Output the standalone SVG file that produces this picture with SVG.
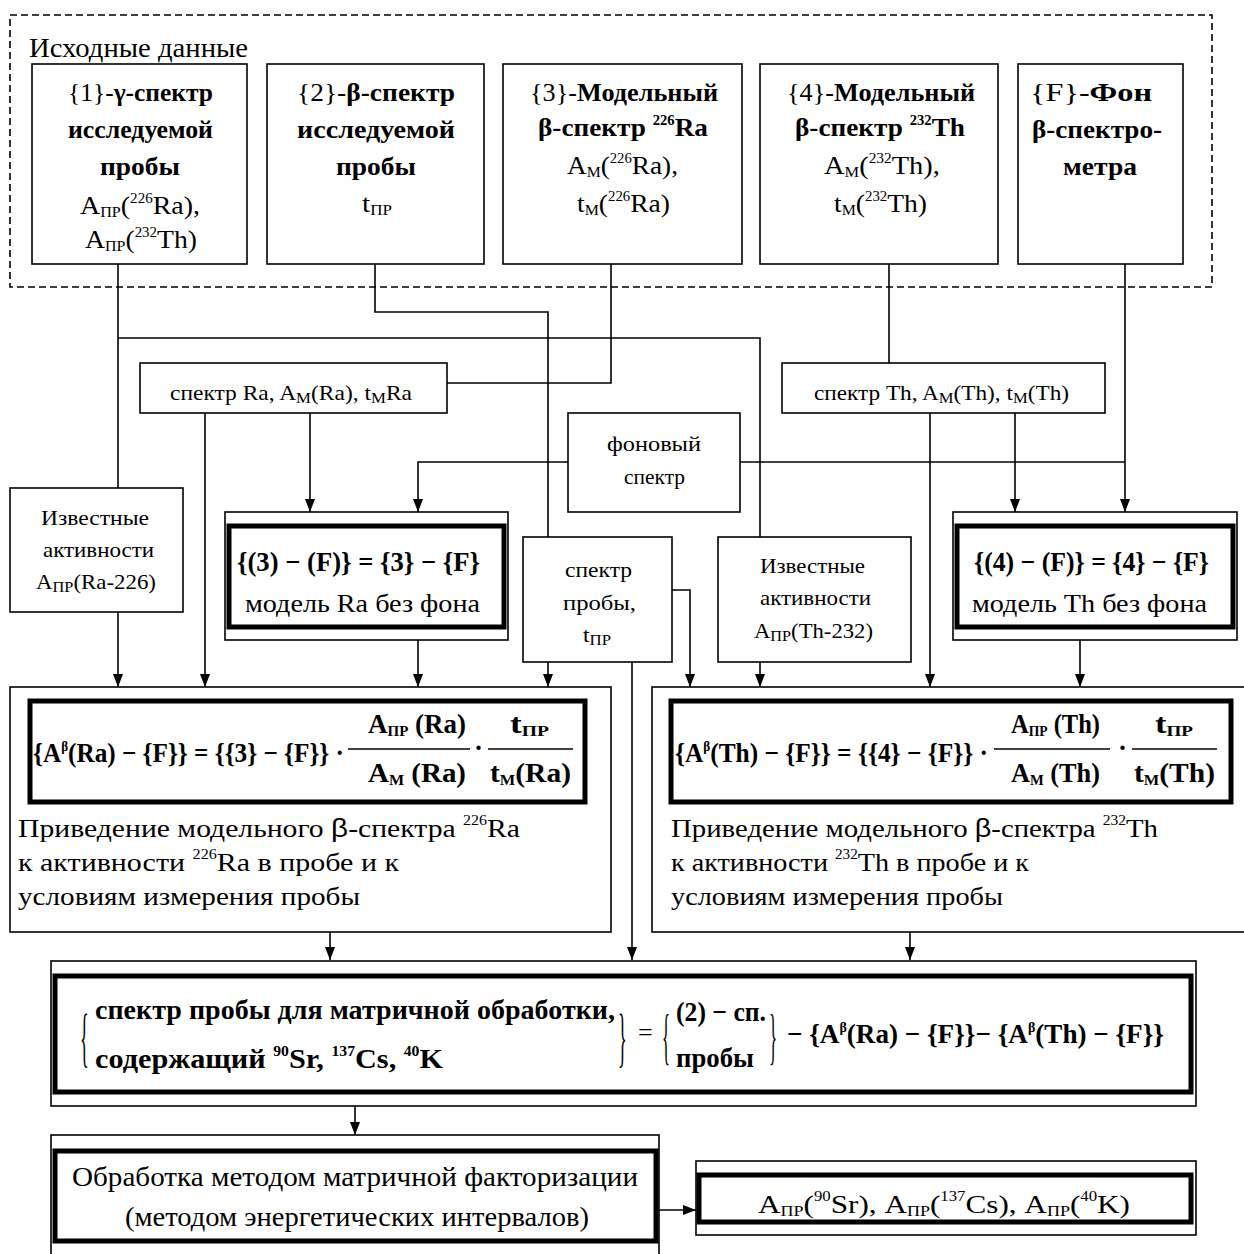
<svg xmlns="http://www.w3.org/2000/svg" width="1244" height="1254" viewBox="0 0 1244 1254">
<defs>
<style>
text{font-family:"Liberation Serif","Times New Roman",serif;fill:#000}
.f28{font-size:28px}
.f26{font-size:26px}
.f27{font-size:27px}
.f21{font-size:21px}
.b{font-weight:bold}
.sub{font-size:15px}
.sup{font-size:14px}
.box{fill:#fff;stroke:#000;stroke-width:1.6}
.thk{fill:none;stroke:#000;stroke-width:5}
.dash{fill:none;stroke:#000;stroke-width:1.6;stroke-dasharray:7 4}
.con path{fill:none;stroke:#000;stroke-width:1.6}
.arr{marker-end:url(#ah)}
.fl{stroke:#000;stroke-width:1.6}
</style>
<marker id="ah" viewBox="0 0 13 10" refX="13" refY="5" markerWidth="13" markerHeight="10" markerUnits="userSpaceOnUse" orient="auto"><path d="M0,0 L13,5 L0,10 z" fill="#000"/></marker>
</defs>
<rect x="0" y="0" width="1244" height="1254" fill="#fff"/>

<!-- Source data group -->
<g id="source-data">
<rect class="dash" x="10" y="15" width="1202" height="272"/>
<text class="f28" x="29" y="57" textLength="219" lengthAdjust="spacingAndGlyphs">Исходные данные</text>
</g>

<!-- connectors -->
<g id="connectors" class="con">
<path d="M118,264 V488"/>
<path d="M118,338 H760 V537"/>
<path class="arr" d="M118,612 V687"/>
<path d="M375,264 V312 H548 V537"/>
<path d="M611,264 V383 H447"/>
<path class="arr" d="M205,413 V687"/>
<path class="arr" d="M310,413 V512"/>
<path class="arr" d="M568,462 H418 V512"/>
<path d="M740,462 H1125"/>
<path class="arr" d="M1125,264 V512"/>
<path d="M889,264 V363"/>
<path class="arr" d="M930,413 V687"/>
<path class="arr" d="M1015,413 V512"/>
<path class="arr" d="M548,662 V687"/>
<path class="arr" d="M672,590 H690 V687"/>
<path class="arr" d="M632,662 V960"/>
<path class="arr" d="M760,662 V687"/>
<path class="arr" d="M418,640 V687"/>
<path class="arr" d="M1080,640 V687"/>
<path class="arr" d="M330,932 V960"/>
<path class="arr" d="M910,932 V960"/>
<path class="arr" d="M355,1106 V1135"/>
<path class="arr" d="M659,1210 H696"/>
</g>

<!-- top boxes -->
<g id="n1">
<rect class="box" x="32" y="64" width="215" height="200"/>
<text class="f26" x="68" y="101" textLength="145" lengthAdjust="spacingAndGlyphs">{1}-<tspan class="b">γ-спектр</tspan></text>
<text class="f26 b" x="68" y="138" textLength="145" lengthAdjust="spacingAndGlyphs">исследуемой</text>
<text class="f26 b" x="100" y="175" textLength="80" lengthAdjust="spacingAndGlyphs">пробы</text>
<text class="f26" x="80" y="214" textLength="120" lengthAdjust="spacingAndGlyphs">A<tspan class="sub" dy="3">ПР</tspan><tspan dy="-3">(</tspan><tspan class="sup" dy="-11">226</tspan><tspan dy="11">Ra),</tspan></text>
<text class="f26" x="85" y="248" textLength="112" lengthAdjust="spacingAndGlyphs">A<tspan class="sub" dy="3">ПР</tspan><tspan dy="-3">(</tspan><tspan class="sup" dy="-11">232</tspan><tspan dy="11">Th)</tspan></text>
</g>
<g id="n2">
<rect class="box" x="267" y="64" width="217" height="200"/>
<text class="f26" x="297" y="101" textLength="158" lengthAdjust="spacingAndGlyphs">{2}-<tspan class="b">β-спектр</tspan></text>
<text class="f26 b" x="297" y="138" textLength="158" lengthAdjust="spacingAndGlyphs">исследуемой</text>
<text class="f26 b" x="336" y="175" textLength="80" lengthAdjust="spacingAndGlyphs">пробы</text>
<text class="f26" x="362" y="212" textLength="30" lengthAdjust="spacingAndGlyphs">t<tspan class="sub" dy="3">ПР</tspan></text>
</g>
<g id="n3">
<rect class="box" x="503" y="64" width="239" height="200"/>
<text class="f26" x="530" y="101" textLength="188" lengthAdjust="spacingAndGlyphs">{3}-<tspan class="b">Модельный</tspan></text>
<text class="f26 b" x="538" y="136" textLength="170" lengthAdjust="spacingAndGlyphs">β-спектр <tspan class="sup" dy="-11">226</tspan><tspan dy="11">Ra</tspan></text>
<text class="f26" x="567" y="174" textLength="111" lengthAdjust="spacingAndGlyphs">A<tspan class="sub" dy="3">M</tspan><tspan dy="-3">(</tspan><tspan class="sup" dy="-11">226</tspan><tspan dy="11">Ra),</tspan></text>
<text class="f26" x="577" y="212" textLength="93" lengthAdjust="spacingAndGlyphs">t<tspan class="sub" dy="3">M</tspan><tspan dy="-3">(</tspan><tspan class="sup" dy="-11">226</tspan><tspan dy="11">Ra)</tspan></text>
</g>
<g id="n4">
<rect class="box" x="760" y="64" width="238" height="200"/>
<text class="f26" x="787" y="101" textLength="188" lengthAdjust="spacingAndGlyphs">{4}-<tspan class="b">Модельный</tspan></text>
<text class="f26 b" x="795" y="136" textLength="170" lengthAdjust="spacingAndGlyphs">β-спектр <tspan class="sup" dy="-11">232</tspan><tspan dy="11">Th</tspan></text>
<text class="f26" x="824" y="174" textLength="116" lengthAdjust="spacingAndGlyphs">A<tspan class="sub" dy="3">M</tspan><tspan dy="-3">(</tspan><tspan class="sup" dy="-11">232</tspan><tspan dy="11">Th),</tspan></text>
<text class="f26" x="834" y="212" textLength="93" lengthAdjust="spacingAndGlyphs">t<tspan class="sub" dy="3">M</tspan><tspan dy="-3">(</tspan><tspan class="sup" dy="-11">232</tspan><tspan dy="11">Th)</tspan></text>
</g>
<g id="nF">
<rect class="box" x="1018" y="64" width="165" height="200"/>
<text class="f26" x="1030" y="101" textLength="122" lengthAdjust="spacingAndGlyphs">{F}-<tspan class="b">Фон</tspan></text>
<text class="f26 b" x="1032" y="138" textLength="130" lengthAdjust="spacingAndGlyphs">β-спектро-</text>
<text class="f26 b" x="1063" y="175" textLength="74" lengthAdjust="spacingAndGlyphs">метра</text>
</g>

<!-- middle boxes -->
<g id="spec-ra">
<rect class="box" x="140" y="363" width="307" height="50"/>
<text class="f21" x="170" y="400" textLength="242" lengthAdjust="spacingAndGlyphs">спектр Ra, A<tspan class="sub" dy="3">M</tspan><tspan dy="-3">(Ra), t</tspan><tspan class="sub" dy="3">M</tspan><tspan dy="-3">Ra</tspan></text>
</g>
<g id="spec-th">
<rect class="box" x="782" y="363" width="323" height="50"/>
<text class="f21" x="814" y="400" textLength="255" lengthAdjust="spacingAndGlyphs">спектр Th, A<tspan class="sub" dy="3">M</tspan><tspan dy="-3">(Th), t</tspan><tspan class="sub" dy="3">M</tspan><tspan dy="-3">(Th)</tspan></text>
</g>
<g id="bg-spec">
<rect class="box" x="568" y="413" width="172" height="99"/>
<text class="f21" x="607" y="451" textLength="94" lengthAdjust="spacingAndGlyphs">фоновый</text>
<text class="f21" x="624" y="484" textLength="61" lengthAdjust="spacingAndGlyphs">спектр</text>
</g>
<g id="known-ra">
<rect class="box" x="10" y="488" width="173" height="124"/>
<text class="f21" x="41" y="525" textLength="108" lengthAdjust="spacingAndGlyphs">Известные</text>
<text class="f21" x="43" y="557" textLength="111" lengthAdjust="spacingAndGlyphs">активности</text>
<text class="f21" x="36" y="589" textLength="120" lengthAdjust="spacingAndGlyphs">A<tspan class="sub" dy="3">ПР</tspan><tspan dy="-3">(Ra-226)</tspan></text>
</g>
<g id="model-ra">
<rect class="box" x="225" y="512" width="283" height="128"/>
<rect class="thk" x="229" y="526" width="275" height="101"/>
<text class="f27 b" x="237" y="571" textLength="243" lengthAdjust="spacingAndGlyphs">{(3) − (F)} = {3} − {F}</text>
<text class="f26" x="245" y="612" textLength="235" lengthAdjust="spacingAndGlyphs">модель Ra без фона</text>
</g>
<g id="spec-sample">
<rect class="box" x="523" y="537" width="149" height="125"/>
<text class="f21" x="565" y="577" textLength="67" lengthAdjust="spacingAndGlyphs">спектр</text>
<text class="f21" x="563" y="610" textLength="73" lengthAdjust="spacingAndGlyphs">пробы,</text>
<text class="f21" x="583" y="642" textLength="28" lengthAdjust="spacingAndGlyphs">t<tspan class="sub" dy="3">ПР</tspan></text>
</g>
<g id="known-th">
<rect class="box" x="718" y="537" width="193" height="125"/>
<text class="f21" x="760" y="573" textLength="105" lengthAdjust="spacingAndGlyphs">Известные</text>
<text class="f21" x="760" y="605" textLength="111" lengthAdjust="spacingAndGlyphs">активности</text>
<text class="f21" x="754" y="638" textLength="119" lengthAdjust="spacingAndGlyphs">A<tspan class="sub" dy="3">ПР</tspan><tspan dy="-3">(Th-232)</tspan></text>
</g>
<g id="model-th">
<rect class="box" x="953" y="512" width="284" height="128"/>
<rect class="thk" x="957" y="526" width="276" height="101"/>
<text class="f27 b" x="974" y="571" textLength="235" lengthAdjust="spacingAndGlyphs">{(4) − (F)} = {4} − {F}</text>
<text class="f26" x="972" y="612" textLength="235" lengthAdjust="spacingAndGlyphs">модель Th без фона</text>
</g>

<!-- normalisation boxes -->
<g id="norm-ra">
<rect class="box" x="10" y="687" width="601" height="245"/>
<rect class="thk" x="30" y="701" width="555" height="101"/>
<text class="f27 b" x="33" y="762" textLength="311" lengthAdjust="spacingAndGlyphs">{A<tspan class="sup" dy="-11">β</tspan><tspan dy="11">(Ra) − {F}} = {{3} − {F}} ·</tspan></text>
<text class="f27 b" x="368" y="733" textLength="98" lengthAdjust="spacingAndGlyphs">A<tspan class="sub" dy="3">ПР</tspan><tspan dy="-3"> (Ra)</tspan></text>
<line class="fl" x1="348" y1="749" x2="470" y2="749"/>
<text class="f27 b" x="368" y="782" textLength="98" lengthAdjust="spacingAndGlyphs">A<tspan class="sub" dy="3">M</tspan><tspan dy="-3"> (Ra)</tspan></text>
<text class="f27 b" x="474" y="757">·</text>
<text class="f27 b" x="510" y="733" textLength="39" lengthAdjust="spacingAndGlyphs">t<tspan class="sub" dy="3">ПР</tspan></text>
<line class="fl" x1="488" y1="749" x2="573" y2="749"/>
<text class="f27 b" x="490" y="782" textLength="81" lengthAdjust="spacingAndGlyphs">t<tspan class="sub" dy="3">M</tspan><tspan dy="-3">(Ra)</tspan></text>
<text class="f26" x="18" y="837" textLength="502" lengthAdjust="spacingAndGlyphs">Приведение модельного <tspan font-family="Liberation Sans, sans-serif">β</tspan>-спектра <tspan class="sup" dy="-12">226</tspan><tspan dy="12">Ra</tspan></text>
<text class="f26" x="18" y="871" textLength="381" lengthAdjust="spacingAndGlyphs">к активности <tspan class="sup" dy="-12">226</tspan><tspan dy="12">Ra в пробе и к</tspan></text>
<text class="f26" x="18" y="905" textLength="342" lengthAdjust="spacingAndGlyphs">условиям измерения пробы</text>
</g>
<g id="norm-th">
<rect class="box" x="652" y="687" width="600" height="245"/>
<rect class="thk" x="671" y="701" width="560" height="101"/>
<text class="f27 b" x="675" y="762" textLength="313" lengthAdjust="spacingAndGlyphs">{A<tspan class="sup" dy="-11">β</tspan><tspan dy="11">(Th) − {F}} = {{4} − {F}} ·</tspan></text>
<text class="f27 b" x="1011" y="733" textLength="89" lengthAdjust="spacingAndGlyphs">A<tspan class="sub" dy="3">ПР</tspan><tspan dy="-3"> (Th)</tspan></text>
<line class="fl" x1="994" y1="749" x2="1110" y2="749"/>
<text class="f27 b" x="1011" y="782" textLength="89" lengthAdjust="spacingAndGlyphs">A<tspan class="sub" dy="3">M</tspan><tspan dy="-3"> (Th)</tspan></text>
<text class="f27 b" x="1118" y="757">·</text>
<text class="f27 b" x="1155" y="733" textLength="38" lengthAdjust="spacingAndGlyphs">t<tspan class="sub" dy="3">ПР</tspan></text>
<line class="fl" x1="1132" y1="749" x2="1217" y2="749"/>
<text class="f27 b" x="1134" y="782" textLength="81" lengthAdjust="spacingAndGlyphs">t<tspan class="sub" dy="3">M</tspan><tspan dy="-3">(Th)</tspan></text>
<text class="f26" x="671" y="837" textLength="487" lengthAdjust="spacingAndGlyphs">Приведение модельного <tspan font-family="Liberation Sans, sans-serif">β</tspan>-спектра <tspan class="sup" dy="-12">232</tspan><tspan dy="12">Th</tspan></text>
<text class="f26" x="671" y="871" textLength="358" lengthAdjust="spacingAndGlyphs">к активности <tspan class="sup" dy="-12">232</tspan><tspan dy="12">Th в пробе и к</tspan></text>
<text class="f26" x="671" y="905" textLength="332" lengthAdjust="spacingAndGlyphs">условиям измерения пробы</text>
</g>

<!-- matrix spectrum -->
<g id="matrix-spec">
<rect class="box" x="51" y="961" width="1145" height="145"/>
<rect class="thk" x="55" y="976" width="1136" height="116"/>
<text class="f26" transform="translate(80,1059) scale(0.7,2.55)">{</text>
<text class="f27 b" x="95" y="1019" textLength="520" lengthAdjust="spacingAndGlyphs">спектр пробы для матричной обработки,</text>
<text class="f27 b" x="95" y="1068" textLength="348" lengthAdjust="spacingAndGlyphs">содержащий <tspan class="sup" dy="-12">90</tspan><tspan dy="12">Sr, </tspan><tspan class="sup" dy="-12">137</tspan><tspan dy="12">Cs, </tspan><tspan class="sup" dy="-12">40</tspan><tspan dy="12">K</tspan></text>
<text class="f26" transform="translate(618,1059) scale(0.7,2.55)">}</text>
<text class="f26" x="638" y="1041">=</text>
<text class="f26" transform="translate(662,1057) scale(0.65,2.35)">{</text>
<text class="f27 b" x="676" y="1021" textLength="90" lengthAdjust="spacingAndGlyphs">(2) − сп.</text>
<text class="f27 b" x="676" y="1067" textLength="78" lengthAdjust="spacingAndGlyphs">пробы</text>
<text class="f26" transform="translate(769,1057) scale(0.65,2.35)">}</text>
<text class="f27 b" x="787" y="1043" textLength="377" lengthAdjust="spacingAndGlyphs">− {A<tspan class="sup" dy="-11">β</tspan><tspan dy="11">(Ra) − {F}}− {A</tspan><tspan class="sup" dy="-11">β</tspan><tspan dy="11">(Th) − {F}}</tspan></text>
</g>

<!-- processing -->
<g id="processing">
<rect class="box" x="51" y="1135" width="608" height="125"/>
<rect class="thk" x="55" y="1151" width="601" height="90"/>
<text class="f27" x="72" y="1186" textLength="566" lengthAdjust="spacingAndGlyphs">Обработка методом матричной факторизации</text>
<text class="f27" x="125" y="1226" textLength="464" lengthAdjust="spacingAndGlyphs">(методом энергетических интервалов)</text>
</g>

<!-- result -->
<g id="result">
<rect class="box" x="696" y="1161" width="500" height="74"/>
<rect class="thk" x="699" y="1175" width="492" height="47"/>
<text class="f26" x="758" y="1213" textLength="372" lengthAdjust="spacingAndGlyphs">A<tspan class="sub" dy="3">ПР</tspan><tspan dy="-3">(</tspan><tspan class="sup" dy="-12">90</tspan><tspan dy="12">Sr), A</tspan><tspan class="sub" dy="3">ПР</tspan><tspan dy="-3">(</tspan><tspan class="sup" dy="-12">137</tspan><tspan dy="12">Cs), A</tspan><tspan class="sub" dy="3">ПР</tspan><tspan dy="-3">(</tspan><tspan class="sup" dy="-12">40</tspan><tspan dy="12">K)</tspan></text>
</g>
</svg>
